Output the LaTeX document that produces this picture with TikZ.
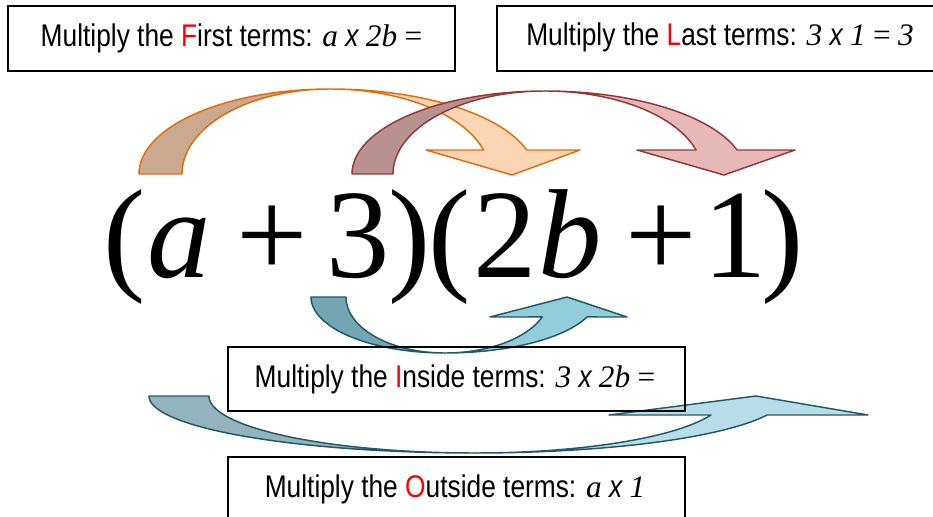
\documentclass[tikz,border=0pt]{standalone}
\usepackage{fontspec}
\setmainfont{Liberation Sans}[FakeStretch=0.84]
\newfontfamily\tms{Liberation Serif}
\newcommand\serifit[1]{{\tms\itshape #1}}
\newcommand\serifup[1]{{\tms #1}}
\newcommand\timesx{{\itshape x}}
\definecolor{orgline}{HTML}{E46C0A}
\definecolor{orgdark}{HTML}{CBA98E}
\definecolor{orglight}{HTML}{FCD5B4}
\definecolor{redline}{HTML}{953735}
\definecolor{reddark}{HTML}{B89290}
\definecolor{redlight}{HTML}{E6B9B8}
\definecolor{tealline}{HTML}{215968}
\definecolor{tealdark}{HTML}{72A6B1}
\definecolor{teallight}{HTML}{92CDDC}
\definecolor{outdark}{HTML}{93B3BD}
\definecolor{outlight}{HTML}{B7DEE8}
\definecolor{keyred}{HTML}{FF0000}
\tikzset{
  eqglyph/.style={anchor=base, inner sep=0pt, font=\tms\fontsize{95}{95}\selectfont},
  labelbox/.style={draw=black, line width=1.2pt, rectangle, inner sep=0pt},
  boxtext/.style={anchor=base, inner sep=0pt, font=\fontsize{23.5}{28}\selectfont},
  band/.style={line width=1.1pt, line join=round},
  orgback/.style={band, draw=orgline, fill=orgdark},
  orgfront/.style={band, draw=orgline, fill=orglight},
  redback/.style={band, draw=redline, fill=reddark},
  redfront/.style={band, draw=redline, fill=redlight},
  inback/.style={band, draw=tealline, fill=tealdark},
  infront/.style={band, draw=tealline, fill=teallight},
  outback/.style={band, draw=tealline, fill=outdark},
  outfront/.style={band, draw=tealline, fill=outlight},
}
\begin{document}
\begin{tikzpicture}[x=0.75pt,y=-0.75pt]
\path[use as bounding box, clip] (0,0) rectangle (933,517);
\fill[white] (0,0) rectangle (933,517);

% the product
\node[eqglyph] (p1) at (124.5,277) {(};
\node[eqglyph] (ea) at (179,277) {\itshape a};
\node[eqglyph] (plus1) at (272.5,277) {+};
\node[eqglyph] (three) at (358,277) {3};
\node[eqglyph] (p2) at (410,277) {)};
\node[eqglyph] (p3) at (450,277) {(};
\node[eqglyph] (two) at (505,277) {2};
\node[eqglyph] (eb) at (570,277) {\itshape b};
\node[eqglyph] (plus2) at (661.5,277) {+};
\node[eqglyph] (one) at (735,277) {1};
\node[eqglyph] (p4) at (782.5,277) {)};

% First arrow (orange)
\filldraw[orgback] plot[domain=180:90, samples=60] ({330+191*cos(\x)},{174-85*sin(\x)})
  -- plot[domain=90:180, samples=60] ({330+148*cos(\x)},{174-85*sin(\x)}) -- cycle;
\filldraw[orgfront] plot[domain=90:16.4, samples=60] ({330+205*cos(\x)},{174-85*sin(\x)})
  -- (580,150) -- (512,175) -- (426,150)
  -- plot[domain=16.4:90, samples=60] ({330+160*cos(\x)},{174-85*sin(\x)}) -- cycle;

% Last arrow (red)
\filldraw[redback] plot[domain=180:90, samples=60] ({545+193*cos(\x)},{174-83*sin(\x)})
  -- plot[domain=90:180, samples=60] ({545+152*cos(\x)},{174-83*sin(\x)}) -- cycle;
\filldraw[redfront] plot[domain=90:16.8, samples=60] ({545+200.6*cos(\x)},{174-83*sin(\x)})
  -- (795,150) -- (724,175) -- (637,150)
  -- plot[domain=16.8:90, samples=60] ({545+157.8*cos(\x)},{174-83*sin(\x)}) -- cycle;

% Inside arrow
\filldraw[inback] plot[domain=180:90, samples=60] ({445+134*cos(\x)},{297+56*sin(\x)})
  -- plot[domain=90:180, samples=60] ({445+99*cos(\x)},{297+56*sin(\x)}) -- cycle;
\filldraw[infront] plot[domain=90:20.9, samples=60] ({445+152*cos(\x)},{297+56*sin(\x)})
  -- (627,317) -- (567,297) -- (490,317)
  -- plot[domain=20.9:90, samples=60] ({445+104*cos(\x)},{297+56*sin(\x)}) -- cycle;

% Outside arrow
\filldraw[outback] plot[domain=180:90, samples=80] ({475+326*cos(\x)},{396+57*sin(\x)})
  -- plot[domain=90:180, samples=80] ({475+266*cos(\x)},{396+57*sin(\x)}) -- cycle;
\filldraw[outfront] plot[domain=90:19.47, samples=80] ({475+309.7*cos(\x)},{396+57*sin(\x)})
  -- (868,415) -- (756,396) -- (609,415)
  -- plot[domain=19.47:90, samples=80] ({475+250.3*cos(\x)},{396+57*sin(\x)}) -- cycle;

% boxes
\node[labelbox, minimum width=335.25pt, minimum height=48.75pt] (firstbox) at (231.5,38.5) {};
\node[labelbox, minimum width=335.25pt, minimum height=48.75pt] (lastbox) at (720.5,38.5) {};
\node[labelbox, minimum width=342.75pt, minimum height=48pt] (insidebox) at (456.5,379) {};
\node[labelbox, minimum width=342.75pt, minimum height=48pt] (outsidebox) at (456.5,489) {};

\node[boxtext] (firsttext) at (231.5,47) {Multiply the \textcolor{keyred}{F}irst terms: \serifit{a} \timesx{} \serifit{2b} \serifup{=}};
\node[boxtext] (lasttext) at (720,46) {Multiply the \textcolor{keyred}{L}ast terms: \serifit{3} \timesx{} \serifit{1} \serifup{=} \serifit{3}};
\node[boxtext] (insidetext) at (455,387) {Multiply the \textcolor{keyred}{I}nside terms: \serifit{3} \timesx{} \serifit{2b} \serifup{=}};
\node[boxtext] (outsidetext) at (455,497) {Multiply the \textcolor{keyred}{O}utside terms: \serifit{a} \timesx{} \serifit{1}};
\end{tikzpicture}
\end{document}
